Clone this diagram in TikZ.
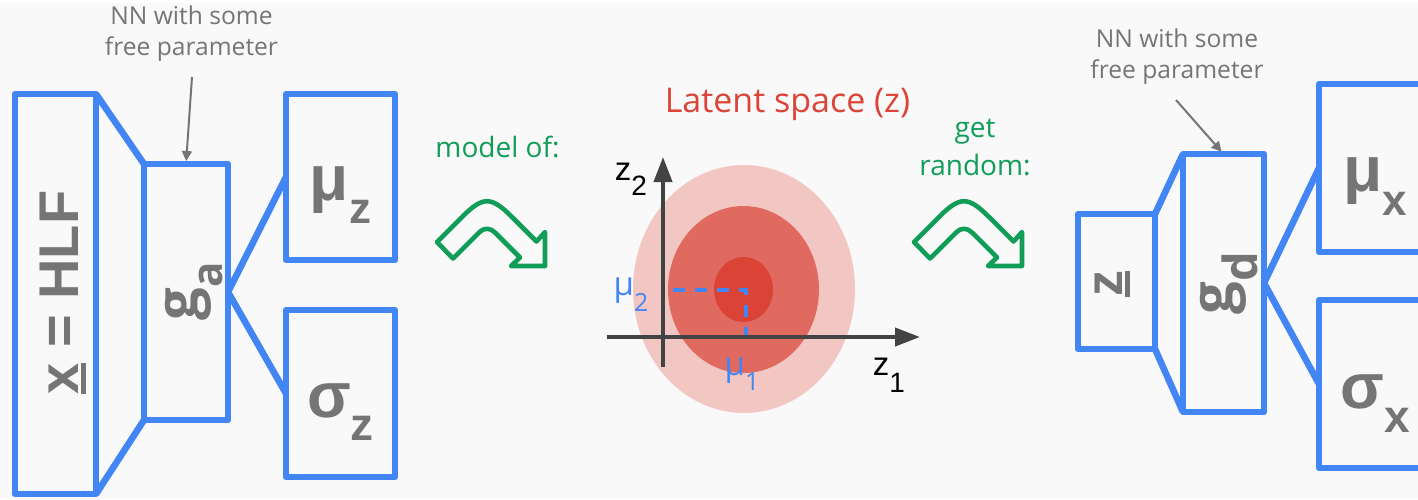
\documentclass[tikz,border=0pt]{standalone}
\usepackage{fontspec}
\setmainfont{Open Sans}
\newfontfamily\symfont{Liberation Sans}
\usetikzlibrary{arrows.meta}

\definecolor{slidebg}{HTML}{F9F9F9}
\definecolor{slideblue}{HTML}{4285F4}
\definecolor{slidegreen}{HTML}{0F9D58}
\definecolor{slidered}{HTML}{DB4437}
\definecolor{notegray}{HTML}{757575}
\definecolor{symgray}{HTML}{757575}
\definecolor{axisgray}{HTML}{434343}
\definecolor{blobout}{HTML}{F2C6C2}
\definecolor{blobmid}{HTML}{E06A60}
\definecolor{blobin}{HTML}{DB4336}

\newlength{\barwd}
\newcommand{\barred}[1]{\settowidth{\barwd}{#1}\rlap{#1}\rule[-0.15em]{\barwd}{0.09em}}
\newcommand{\lowered}[3]{\raisebox{-#1}{\fontsize{#2}{#2}\selectfont #3}}
% hollow curved arrow, shifted by #1 px
\newcommand{\hookarrow}[1]{%
  \draw[hook, shift={(#1,0)}] (437,242) -- (462,217) .. controls (483,196) and (491,196) .. (512,217)
    -- (536.5,241.5) -- (545,232) -- (545,266) -- (511,266) -- (520,257.5) -- (495,232.5)
    .. controls (490,227.5) and (484,227.5) .. (479,232.5) -- (453,258.5) -- cycle;}

\begin{document}
\begin{tikzpicture}[x=0.5pt, y=-0.5pt,
    netbox/.style={draw=slideblue, line width=3.3pt, line join=round, inner sep=0pt, outer sep=0pt},
    link/.style={draw=slideblue, line width=3.3pt},
    symtext/.style={text=symgray, font=\symfont\bfseries\fontsize{32}{32}\selectfont, inner sep=0pt, anchor=base},
    gtext/.style={symtext, rotate=90, font=\bfseries\fontsize{29}{29}\selectfont},
    notetext/.style={text=notegray, font=\fontsize{12.3}{15.5}\selectfont, align=center, inner sep=0pt, anchor=base},
    greentext/.style={text=slidegreen, font=\fontsize{14}{19}\selectfont, align=center, inner sep=0pt, anchor=base},
    axislabel/.style={text=black, font=\symfont\fontsize{16.5}{16.5}\selectfont, inner sep=0pt, anchor=base},
    mulabel/.style={text=slideblue, font=\fontsize{16.5}{16.5}\selectfont, inner sep=0pt, anchor=base},
    note/.style={draw=notegray, line width=1pt, shorten >=1.5pt, -{Triangle[length=5pt,width=5pt]}},
    axis/.style={draw=axisgray, line width=2pt, -{Triangle[length=12.5pt,width=9pt]}},
    guide/.style={draw=slideblue, line width=2pt, dash pattern=on 6pt off 5pt},
    hook/.style={draw=slidegreen, line width=2.3pt, line join=round}
]
    \clip (0,0) rectangle (1418,499);
    \fill[slidebg] (0,0) rectangle (1418,499);
    \fill[white] (0,0) rectangle (1418,3);

    % encoder
    \node[netbox, minimum width=40.5pt, minimum height=200pt] (hlf) at (55.5,294) {};
    \node[netbox, minimum width=42pt, minimum height=128pt] (ga) at (186,292) {};
    \node[netbox, minimum width=54.5pt, minimum height=83pt] (muz) at (340.5,177) {};
    \node[netbox, minimum width=54.5pt, minimum height=83.5pt] (sigz) at (340.5,393.5) {};
    \draw[link] (hlf.north east) -- (ga.north west);
    \draw[link] (hlf.south east) -- (ga.south west);
    \draw[link] (ga.east) -- (muz.west);
    \draw[link] (ga.east) -- (sigz.west);

    \node[symtext, rotate=90, font=\symfont\bfseries\fontsize{28}{28}\selectfont] (hlftext) at (78,292.5) {\barred{x} = HLF};
    \node[gtext] (gatext) at (197,291) {g\lowered{12.5pt}{21}{a}};
    \node[symtext] (muztext) at (340.5,200) {μ\lowered{11.5pt}{22}{z}};
    \node[symtext] (sigztext) at (340.5,417) {σ\lowered{11.5pt}{23}{z}};

    \node[notetext] (nnleft) at (191.5,55) {NN with some\\free parameter};
    \coordinate (nnleftfoot) at (192,77);
    \draw[note] (nnleftfoot) -- (ga.north);

    % latent space
    \node[greentext] (modelof) at (497.5,157) {model of:};
    \hookarrow{0}
    \node[text=slidered, font=\fontsize{17}{17}\selectfont, inner sep=0pt, anchor=base] (latent) at (787.5,112) {Latent space (z)};

    \fill[blobout] (744,289) ellipse [x radius=55.5pt, y radius=62pt];
    \fill[blobmid] (743.5,289.5) ellipse [x radius=37.75pt, y radius=41.75pt];
    \fill[blobin] (743.5,289.5) ellipse [x radius=14.75pt, y radius=16.25pt];

    \coordinate (mu) at (746,290);
    \coordinate (mu2foot) at (673,290);
    \coordinate (mu1foot) at (746,337);
    \draw[guide] (mu2foot) -- (mu) -- (mu1foot);

    \coordinate (xstart) at (607,337);
    \coordinate (xend) at (920,337);
    \coordinate (ystart) at (663,367);
    \coordinate (yend) at (663,157);
    \draw[axis] (xstart) -- (xend);
    \draw[axis] (ystart) -- (yend);

    \node[axislabel] (z2) at (631,180) {z\lowered{7.5pt}{14}{2}};
    \node[axislabel] (z1) at (889,375) {z\lowered{8.5pt}{14}{1}};
    \node[mulabel] (mu2) at (631,295) {μ\lowered{8pt}{12.5}{2}};
    \node[mulabel] (mu1) at (742,375) {μ\lowered{7.5pt}{12.5}{1}};

    \node[greentext] (getrandom) at (975,175) {get\\random:};
    \hookarrow{477}

    % decoder
    \node[netbox, minimum width=38.5pt, minimum height=67.5pt] (zin) at (1116.5,281.5) {};
    \node[netbox, minimum width=40.5pt, minimum height=129pt] (gd) at (1223.5,283) {};
    \node[netbox, minimum width=54.5pt, minimum height=84pt] (mux) at (1373.5,168) {};
    \node[netbox, minimum width=54.5pt, minimum height=84pt] (sigx) at (1373.5,384) {};
    \draw[link] (zin.north east) -- (gd.north west);
    \draw[link] (zin.south east) -- (gd.south west);
    \draw[link] (gd.east) -- (mux.west);
    \draw[link] (gd.east) -- (sigx.west);

    \node[symtext, rotate=90, font=\symfont\bfseries\fontsize{26}{26}\selectfont] (zintext) at (1122,283.5) {\barred{z}};
    \node[gtext] (gdtext) at (1232,283) {g\lowered{12.5pt}{23.5}{d}};
    \node[symtext] (muxtext) at (1375,191) {μ\lowered{12pt}{22}{x}};
    \node[symtext] (sigxtext) at (1375,408) {σ\lowered{12pt}{23}{x}};

    \node[notetext] (nnright) at (1177,78) {NN with some\\free parameter};
    \coordinate (nnrightfoot) at (1176,100);
    \draw[note] (nnrightfoot) -- (gd.north);
\end{tikzpicture}
\end{document}
